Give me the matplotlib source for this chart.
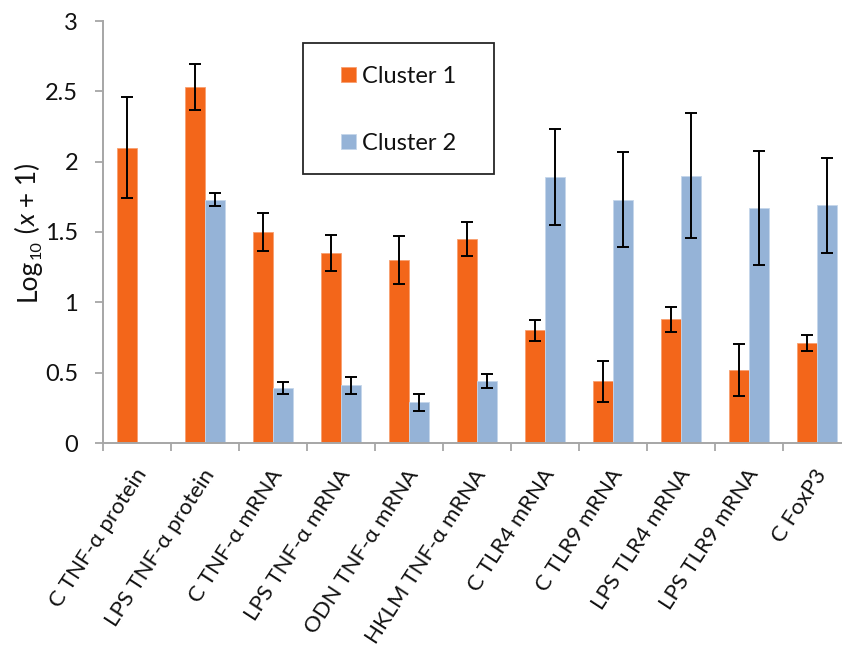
import matplotlib
matplotlib.use("Agg")
import matplotlib.pyplot as plt
import matplotlib.transforms as mtransforms
from matplotlib.patches import Rectangle
from matplotlib import font_manager
import numpy as np

categories = ["C TNF-α protein", "LPS TNF-α protein", "C TNF-α mRNA", "LPS TNF-α mRNA",
              "ODN TNF-α mRNA", "HKLM TNF-α mRNA", "C TLR4 mRNA", "C TLR9 mRNA",
              "LPS TLR4 mRNA", "LPS TLR9 mRNA", "C FoxP3"]
cluster1 = [2.10, 2.53, 1.50, 1.35, 1.30, 1.45, 0.80, 0.44, 0.88, 0.52, 0.71]
cluster1_err = [0.36, 0.165, 0.135, 0.13, 0.17, 0.12, 0.077, 0.146, 0.09, 0.185, 0.055]
cluster2 = [0.0, 1.73, 0.39, 0.41, 0.29, 0.44, 1.89, 1.73, 1.90, 1.67, 1.69]
cluster2_err = [0.0, 0.045, 0.045, 0.06, 0.06, 0.05, 0.34, 0.34, 0.445, 0.405, 0.337]
yticks = [0, 0.5, 1, 1.5, 2, 2.5, 3]
ytick_labels = ["0", "0.5", "1", "1.5", "2", "2.5", "3"]

FONT = ["Lato", "Open Sans", "DejaVu Sans"]
plt.rcParams['font.family'] = FONT

# find an italic face for the italic x
italic_file = None
for fam in ["Lato", "Open Sans", "Noto Sans", "Liberation Sans", "DejaVu Sans"]:
    found = [f for f in font_manager.fontManager.ttflist
             if f.name == fam and f.style in ("italic", "oblique") and f.weight in (400, "normal", "regular")]
    if not found:
        found = [f for f in font_manager.fontManager.ttflist
                 if f.name == fam and f.style in ("italic", "oblique")]
    if found:
        italic_file = found[0].fname
        break

ORANGE = "#F3661A"
BLUE = "#95B3D7"
GRAY = "#A6A6A6"
TXT = "#111111"
FS = 17
XFS = 16

fig = plt.figure(figsize=(8.42, 6.47), dpi=100)
W, H = 842, 647
left, right, top, bottom = 103, 851, 21, 443
ax = fig.add_axes([left / W, 1 - bottom / H, (right - left) / W, (bottom - top) / H])

x = np.arange(len(categories))
bw = 20 / 68
ekw = dict(ecolor="black", elinewidth=1.4, capsize=4.2, capthick=1.4)
ax.bar(x - bw / 2, cluster1, bw, color=ORANGE, edgecolor="#F8A070", linewidth=0.6,
       yerr=cluster1_err, error_kw=ekw, label="Cluster 1", zorder=2)
c2_err = [e if v > 0 else np.nan for v, e in zip(cluster2, cluster2_err)]
ax.bar(x + bw / 2, cluster2, bw, color=BLUE, edgecolor="#C5D6EA", linewidth=0.6,
       yerr=c2_err, error_kw=ekw, label="Cluster 2", zorder=2)

ax.set_xlim(-0.5, len(categories) - 0.5)
ax.set_ylim(0, 3)
ax.set_yticks(yticks)
ax.set_yticklabels(ytick_labels)

ax.set_xticks(x)
ax.set_xticklabels(categories, rotation=57, ha="right", va="center", rotation_mode="anchor")
ax.set_xticks(np.arange(-0.5, len(categories), 1.0), minor=True)
ax.tick_params(axis="x", which="major", length=0, pad=20, labelsize=XFS, labelcolor=TXT)
ax.tick_params(axis="x", which="minor", length=6, width=1.3, color=GRAY, direction="out")
ax.tick_params(axis="y", length=6, width=1.3, color=GRAY, direction="out", pad=12,
               labelsize=FS, labelcolor=TXT)
offset = mtransforms.ScaledTranslation(5 / 100, 0, fig.dpi_scale_trans)
for lab in ax.get_xticklabels():
    lab.set_transform(lab.get_transform() + offset)

for s in ["top", "right"]:
    ax.spines[s].set_visible(False)
for s in ["left", "bottom"]:
    ax.spines[s].set_color(GRAY)
    ax.spines[s].set_linewidth(1.4)

# y label built from pieces: "Log", subscript "10", " (", italic "x", " + 1)"
YFS = 19
ax.set_ylabel("")
ylab_parts = [("Log", YFS, False, 0), ("10", YFS * 0.62, False, -0.28),
              (" (", YFS, False, 0), ("x", YFS, True, 0), (" + 1)", YFS, False, 0)]
fig.canvas.draw()
renderer = fig.canvas.get_renderer()
texts = []
total = 0.0
for s, fs, ital, dy in ylab_parts:
    kw = dict(fontsize=fs, color=TXT, rotation=90, ha="left", va="baseline", rotation_mode="anchor")
    if ital and italic_file:
        kw["fontproperties"] = font_manager.FontProperties(fname=italic_file, size=fs)
        kw.pop("fontsize")
    elif ital:
        kw["style"] = "italic"
    t = fig.text(0, 0, s, **kw)
    bb = t.get_window_extent(renderer)
    texts.append((t, bb.height, dy * fs))
    total += bb.height
cx, cy = 36, (top + bottom) / 2
ypos = cy + total / 2
for t, hgt, dy in texts:
    bx = cx - dy * 100 / 72
    t.set_position((bx / W, 1 - ypos / H))
    ypos -= hgt

# legend
ax_w, ax_h = right - left, bottom - top
def ax_coords(px, py):
    return ((px - left) / ax_w, (bottom - py) / ax_h)

leg = ax.legend(loc="upper left", bbox_to_anchor=ax_coords(341, 66), frameon=False,
                fontsize=FS, handlelength=0.62, handleheight=0.62, handletextpad=0.28,
                labelspacing=1.95, borderpad=0, borderaxespad=0)
for txt in leg.get_texts():
    txt.set_color(TXT)
x0, y0 = ax_coords(303, 174)
x1, y1 = ax_coords(494, 43)
ax.add_patch(Rectangle((x0, y0), x1 - x0, y1 - y0, transform=ax.transAxes, fill=False,
                       edgecolor="#262626", linewidth=1.3, zorder=5, clip_on=False))

fig.savefig("out.png", dpi=100)
